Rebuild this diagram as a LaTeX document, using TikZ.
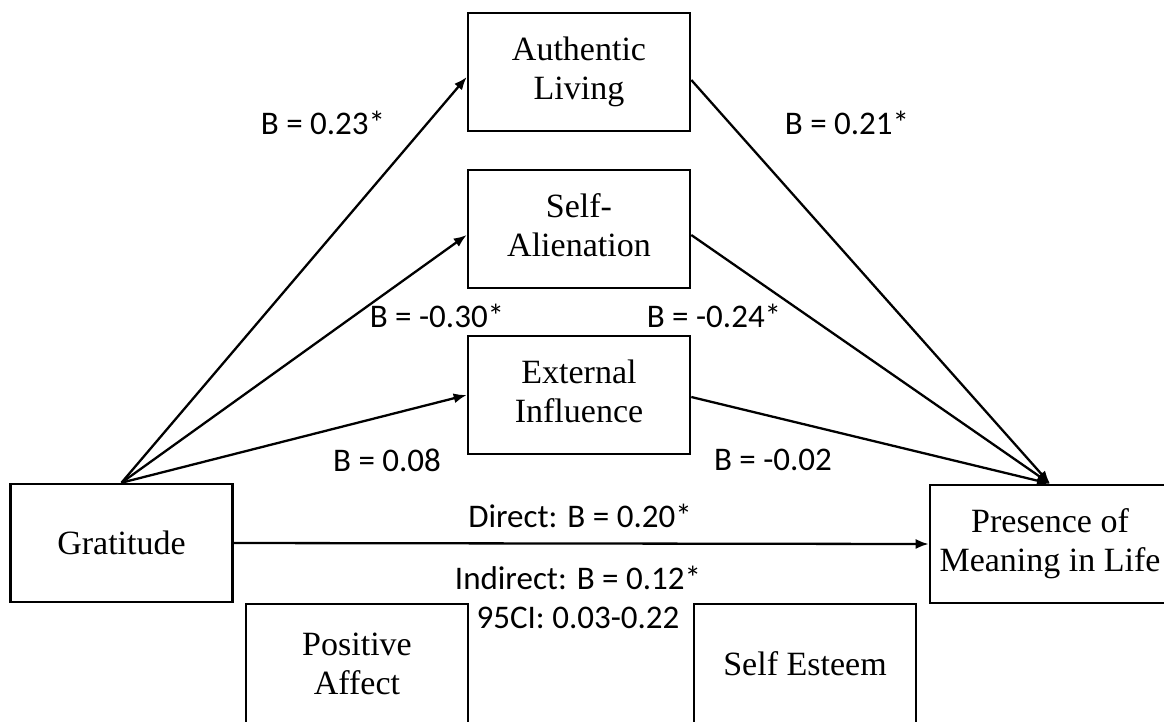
\documentclass[tikz,border=0pt]{standalone}
\usepackage{fontspec}
\setmainfont{Liberation Serif}
\newfontfamily\labelfont{Carlito}
\usepackage{tikz}
\usetikzlibrary{arrows.meta,positioning}

\tikzset{
  varbox/.style={draw,line width=2.6pt,minimum width=222pt,minimum height=118pt,
    inner sep=0pt,align=center,font=\fontsize{34}{39}\selectfont},
  path/.style={-{Latex[length=13pt,width=10pt]},line width=2.3pt},
  coef/.style={font=\labelfont\fontsize{33}{38}\selectfont,inner sep=0pt}
}

\begin{document}
\begin{tikzpicture}[x=1pt,y=-1pt]
        \clip (0,0) rectangle (1164,721);
        \fill[white] (0,0) rectangle (1164,721);
        % variables
        \node[varbox] (grat) at (121.5,543) {Gratitude};
        \node[varbox] (auth) at (579,72) {\raisebox{-6pt}{\begin{tabular}{@{}c@{}}Authentic\\Living\end{tabular}}};
        \node[varbox] (alien) at (579,229) {\raisebox{-6pt}{\begin{tabular}{@{}c@{}}Self-\\Alienation\end{tabular}}};
        \node[varbox] (ext) at (579,395) {\raisebox{-2pt}{\begin{tabular}{@{}c@{}}External\\Influence\end{tabular}}};
        \node[varbox,minimum width=240pt] (pml) at (1050,544) {Presence of\\Meaning in Life};
        \node[varbox,minimum height=120pt] (pa) at (357,664) {Positive\\Affect};
        \node[varbox,minimum height=120pt] (se) at (805,664) {Self Esteem};
        % paths
        \draw[path] (grat.north) -- ([yshift=-5pt]auth.west);
        \draw[path] (grat.north) -- ([yshift=-6pt]alien.west);
        \draw[path] (grat.north) -- (ext.west);
        \draw[path] ([yshift=-8pt]auth.east) -- (pml.north);
        \draw[path] ([yshift=-6pt]alien.east) -- (pml.north);
        \draw[path] ([yshift=-2pt]ext.east) -- (pml.north);
        \draw[path] (grat.east) -- (pml.west);
        % coefficients
        \node[coef] (a1) at (323,123) {B = 0.23*};
        \node[coef] (b1) at (847,123) {B = 0.21*};
        \node[coef] (a2) at (437,316) {B = -0.30*};
        \node[coef] (b2) at (714,316) {B = -0.24*};
        \node[coef] (a3) at (387,460) {B = 0.08};
        \node[coef] (b3) at (773,460) {B = -0.02};
        \node[coef] (dir) at (580,516) {Direct: B = 0.20*};
        \node[coef] (ind) at (578,578) {Indirect: B = 0.12*};
        \node[coef] (ci) at (578,618) {95CI: 0.03-0.22};
    \end{tikzpicture}
\end{document}
